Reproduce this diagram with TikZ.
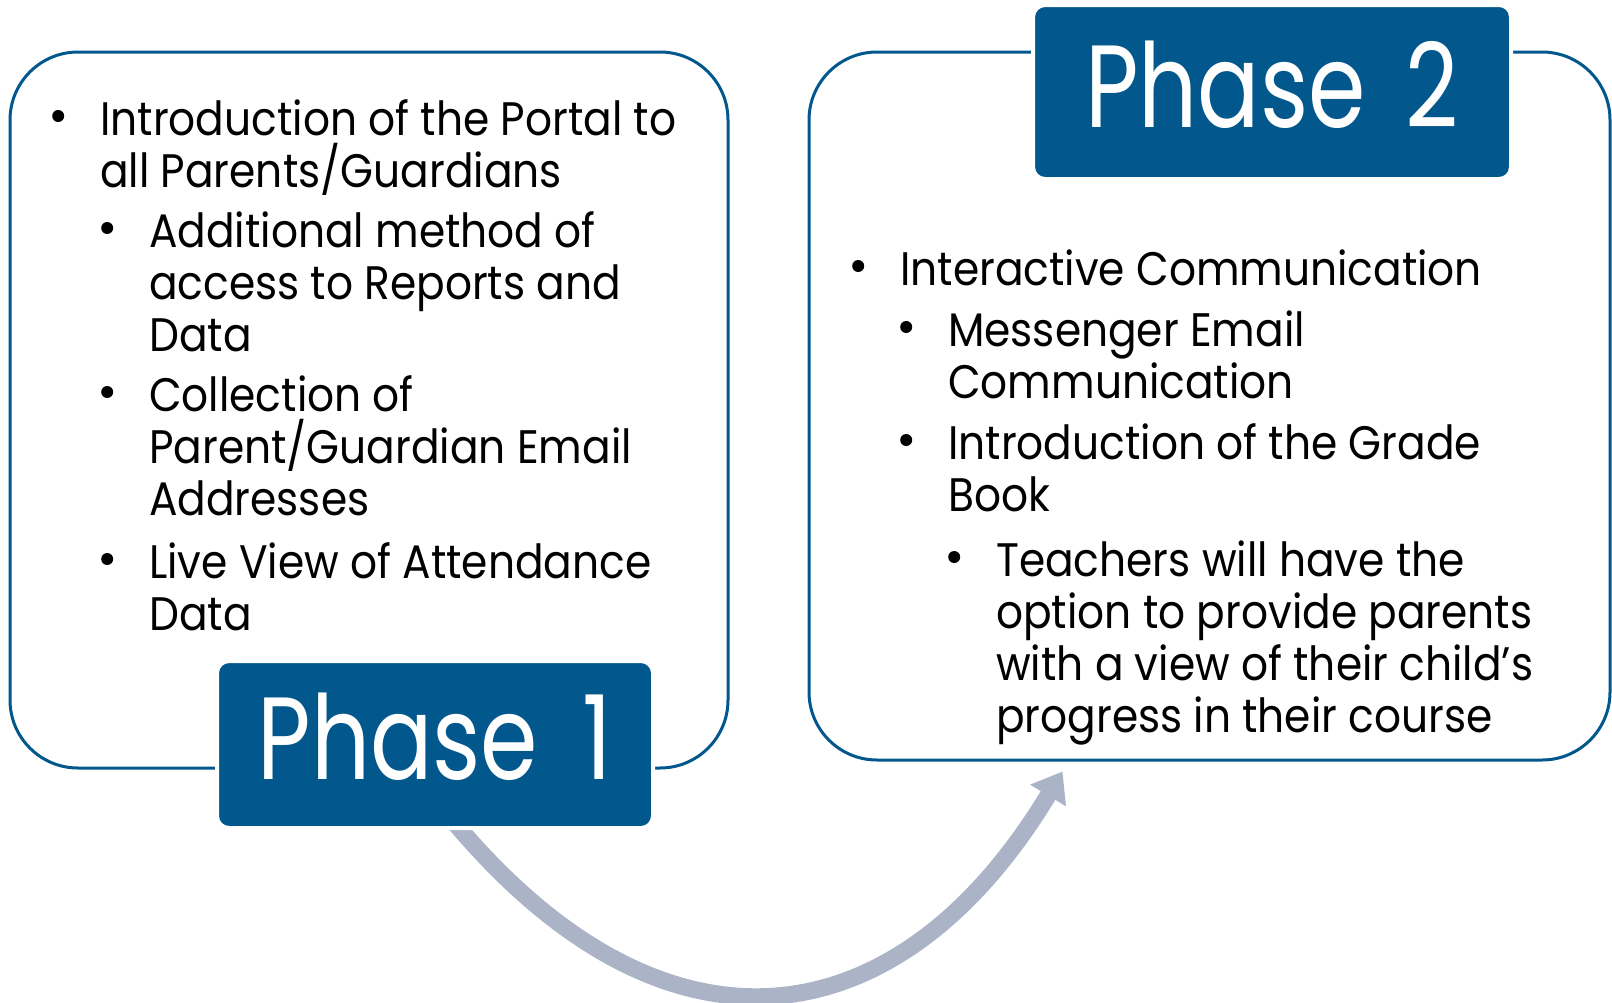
\documentclass[tikz,border=0pt]{standalone}
\usepackage{fontspec}
\setmainfont{Poppins}[FakeStretch=0.9]
\newfontfamily\phasefont{Poppins}[FakeStretch=0.79]
\usetikzlibrary{arrows.meta}

\definecolor{phaseblue}{RGB}{2,88,141}
\definecolor{arrowgray}{RGB}{171,179,198}

% bullet hung left of the first line
\newcommand{\bul}{\llap{\raisebox{13pt}{\tikz\fill (0,0) circle (6pt);}\hspace{36pt}}}

\begin{document}
\begin{tikzpicture}[x=1pt,y=-1pt]
    \tikzstyle{panel} = [draw=phaseblue, line width=3pt, rounded corners=68pt, inner sep=0pt]
    \tikzstyle{phase} = [fill=phaseblue, draw=white, line width=4pt, rounded corners=12pt,
                         text=white, text depth=16pt, font=\phasefont\fontsize{117}{117}\selectfont]
    \tikzstyle{item} = [anchor=base west, align=left, inner sep=0pt,
                        font=\fontsize{47}{52}\selectfont]
    \tikzstyle{arrow} = [arrowgray, line width=17pt, -{Triangle[width=40pt,length=28pt]}]

    \useasboundingbox (0,0) rectangle (1612,1002);

    % Left panel
    \node [panel, minimum width=718pt, minimum height=716pt] (LeftBox) at (369,410) {};

    % Right panel
    \node [panel, minimum width=801pt, minimum height=708pt] (RightBox) at (1209.5,406) {};

    % Arrow from under Phase 1 to the right panel
    \coordinate (ArrowStart) at (449,816);
    \draw [arrow] (ArrowStart) .. controls (663,1076) and (898,1044) .. ([xshift=255pt,yshift=-10pt]RightBox.south west);

    % Phase 1 label, hiding the panel line and the arrow start
    \node [phase, minimum width=436pt, minimum height=167pt] (PhaseOne) at (435,744.5) {Phase\hspace{20pt} 1};

    % Phase 2 label, on the top line of the right panel
    \node [phase, minimum width=478pt, minimum height=174pt] (PhaseTwo) at (1272,92) {Phase\hspace{15pt} 2};

    % Left panel, bullets (placed at the base of their last line)
    \node [item] (IntroPortal) at (100,187) {\bul Introduction of the Portal to\\all Parents/Guardians};
      \node [item] (AddMethod) at (149,351) {\bul Additional method of\\access to Reports and\\Data};
      \node [item] (EmailCollect) at (149,515) {\bul Collection of\\Parent/Guardian Email\\Addresses};
      \node [item] (LiveView) at (149,630) {\bul Live View of Attendance\\Data};

    % Right panel, bullets
    \node [item] (Interactive) at (900,285) {\bul Interactive Communication};
      \node [item] (Messenger) at (948,398) {\bul Messenger Email\\Communication};
      \node [item] (GradeBook) at (948,511) {\bul Introduction of the Grade\\Book};
        \node [item] (Teachers) at (996,732) {\bul Teachers will have the\\option to provide parents\\with a view of their child’s\\progress in their course};
\end{tikzpicture}
\end{document}
